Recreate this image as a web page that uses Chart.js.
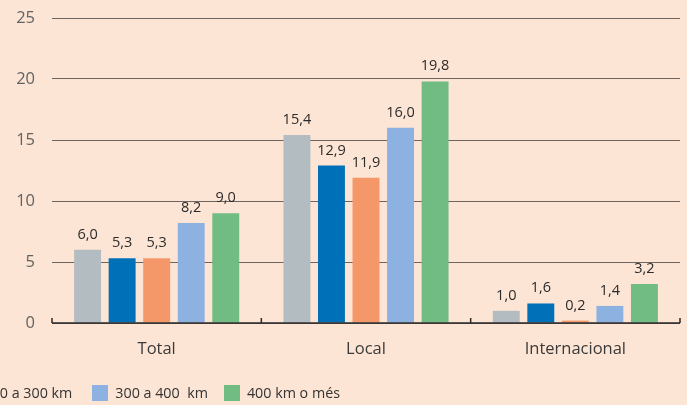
<!DOCTYPE html>
<html>
<head>
<meta charset="utf-8">
<script src="https://cdn.jsdelivr.net/npm/chart.js@4/dist/chart.umd.min.js"></script>
<style>
  html, body { margin:0; padding:0; background:#FDE5D5; width:687px; height:405px; overflow:hidden; position:relative; font-family:"Open Sans", sans-serif; }
  #wrap { position:absolute; left:0; top:0; width:687px; height:405px; }
  #legend { position:absolute; top:383px; right:347px; display:flex; align-items:center; white-space:pre; font-size:14.3px; color:#333; }
  #legend .item { display:flex; align-items:center; margin-left:16px; }
  #legend .item.wide { margin-left:20px; }
  #legend .box { width:16px; height:16px; margin-right:7px; }
</style>
</head>
<body>
<div id="wrap"><canvas id="c" width="687" height="405"></canvas></div>
<div id="legend"></div>
<script>
const categories = ["Total", "Local", "Internacional"];
const seriesNames = ["Menys de 100 km", "100 a 200 km", "200 a 300 km", "300 a 400  km", "400 km o més"];
const s1 = [6.0, 15.4, 1.0];
const s2 = [5.3, 12.9, 1.6];
const s3 = [5.3, 11.9, 0.2];
const s4 = [8.2, 16.0, 1.4];
const s5 = [9.0, 19.8, 3.2];
const yTicks = [0, 5, 10, 15, 20, 25];
const colors = ["#B3BDC1", "#0070B8", "#F4986A", "#8DB1E0", "#71BC83"];

const seriesValues = [s1, s2, s3, s4, s5];
const datasets = seriesValues.map((v, i) => ({
  label: seriesNames[i],
  data: v,
  backgroundColor: colors[i],
  categoryPercentage: 0.825,
  barPercentage: 0.78
}));

const bgPlugin = {
  id: 'bg',
  beforeDraw(chart) {
    const ctx = chart.ctx;
    ctx.save();
    ctx.fillStyle = '#FDE5D5';
    ctx.fillRect(0, 0, chart.width, chart.height);
    ctx.restore();
  }
};

const labelPlugin = {
  id: 'vlabels',
  afterDatasetsDraw(chart) {
    const ctx = chart.ctx;
    ctx.save();
    ctx.font = '14.5px "Open Sans", sans-serif';
    ctx.fillStyle = '#2b2b2b';
    ctx.textAlign = 'center';
    ctx.textBaseline = 'alphabetic';
    chart.data.datasets.forEach((ds, di) => {
      const meta = chart.getDatasetMeta(di);
      meta.data.forEach((el, i) => {
        const txt = ds.data[i].toFixed(1).replace('.', ',');
        ctx.fillText(txt, el.x, el.y - 11);
      });
    });
    ctx.restore();
  }
};

const axisPlugin = {
  id: 'axisline',
  afterDatasetsDraw(chart) {
    const ctx = chart.ctx;
    const xs = chart.scales.x;
    const ys = chart.scales.y;
    const y0 = ys.getPixelForValue(0);
    ctx.save();
    ctx.strokeStyle = '#2a2a2a';
    ctx.lineWidth = 1.5;
    ctx.beginPath();
    ctx.moveTo(xs.left, y0);
    ctx.lineTo(xs.right, y0);
    const n = categories.length;
    for (let i = 0; i <= n; i++) {
      const x = xs.left + (xs.right - xs.left) * i / n;
      ctx.moveTo(x, y0);
      ctx.lineTo(x, y0 - 5);
    }
    ctx.stroke();
    ctx.restore();
  }
};

new Chart(document.getElementById('c'), {
  type: 'bar',
  data: { labels: categories, datasets },
  options: {
    responsive: false,
    animation: false,
    layout: { padding: { top: 18, right: 7, left: 0, bottom: 0 } },
    plugins: { legend: { display: false }, tooltip: { enabled: false } },
    scales: {
      x: {
        grid: { display: false, drawTicks: false },
        border: { display: false },
        ticks: { color: '#3a3a3a', font: { size: 16.5, family: '"Open Sans", sans-serif' }, padding: 16 },
        afterFit(scale) { scale.height = 82; }
      },
      y: {
        min: 0, max: 25,
        afterBuildTicks(scale) { scale.ticks = yTicks.map(v => ({ value: v })); },
        grid: { color: '#6E6560', lineWidth: 1, drawTicks: false },
        border: { display: false },
        ticks: { color: '#626262', font: { size: 16.5, family: '"Open Sans", sans-serif' }, padding: 17 },
        afterFit(scale) { scale.width = 52; scale.paddingTop = 0; scale.paddingBottom = 0; }
      }
    }
  },
  plugins: [bgPlugin, labelPlugin, axisPlugin]
});

const leg = document.getElementById('legend');
seriesNames.forEach((name, i) => {
  const it = document.createElement('div');
  it.className = 'item' + (i === 3 ? ' wide' : '');
  const b = document.createElement('div');
  b.className = 'box';
  b.style.background = colors[i];
  const t = document.createElement('span');
  t.textContent = name;
  it.appendChild(b); it.appendChild(t);
  leg.appendChild(it);
});
</script>
</body>
</html>
